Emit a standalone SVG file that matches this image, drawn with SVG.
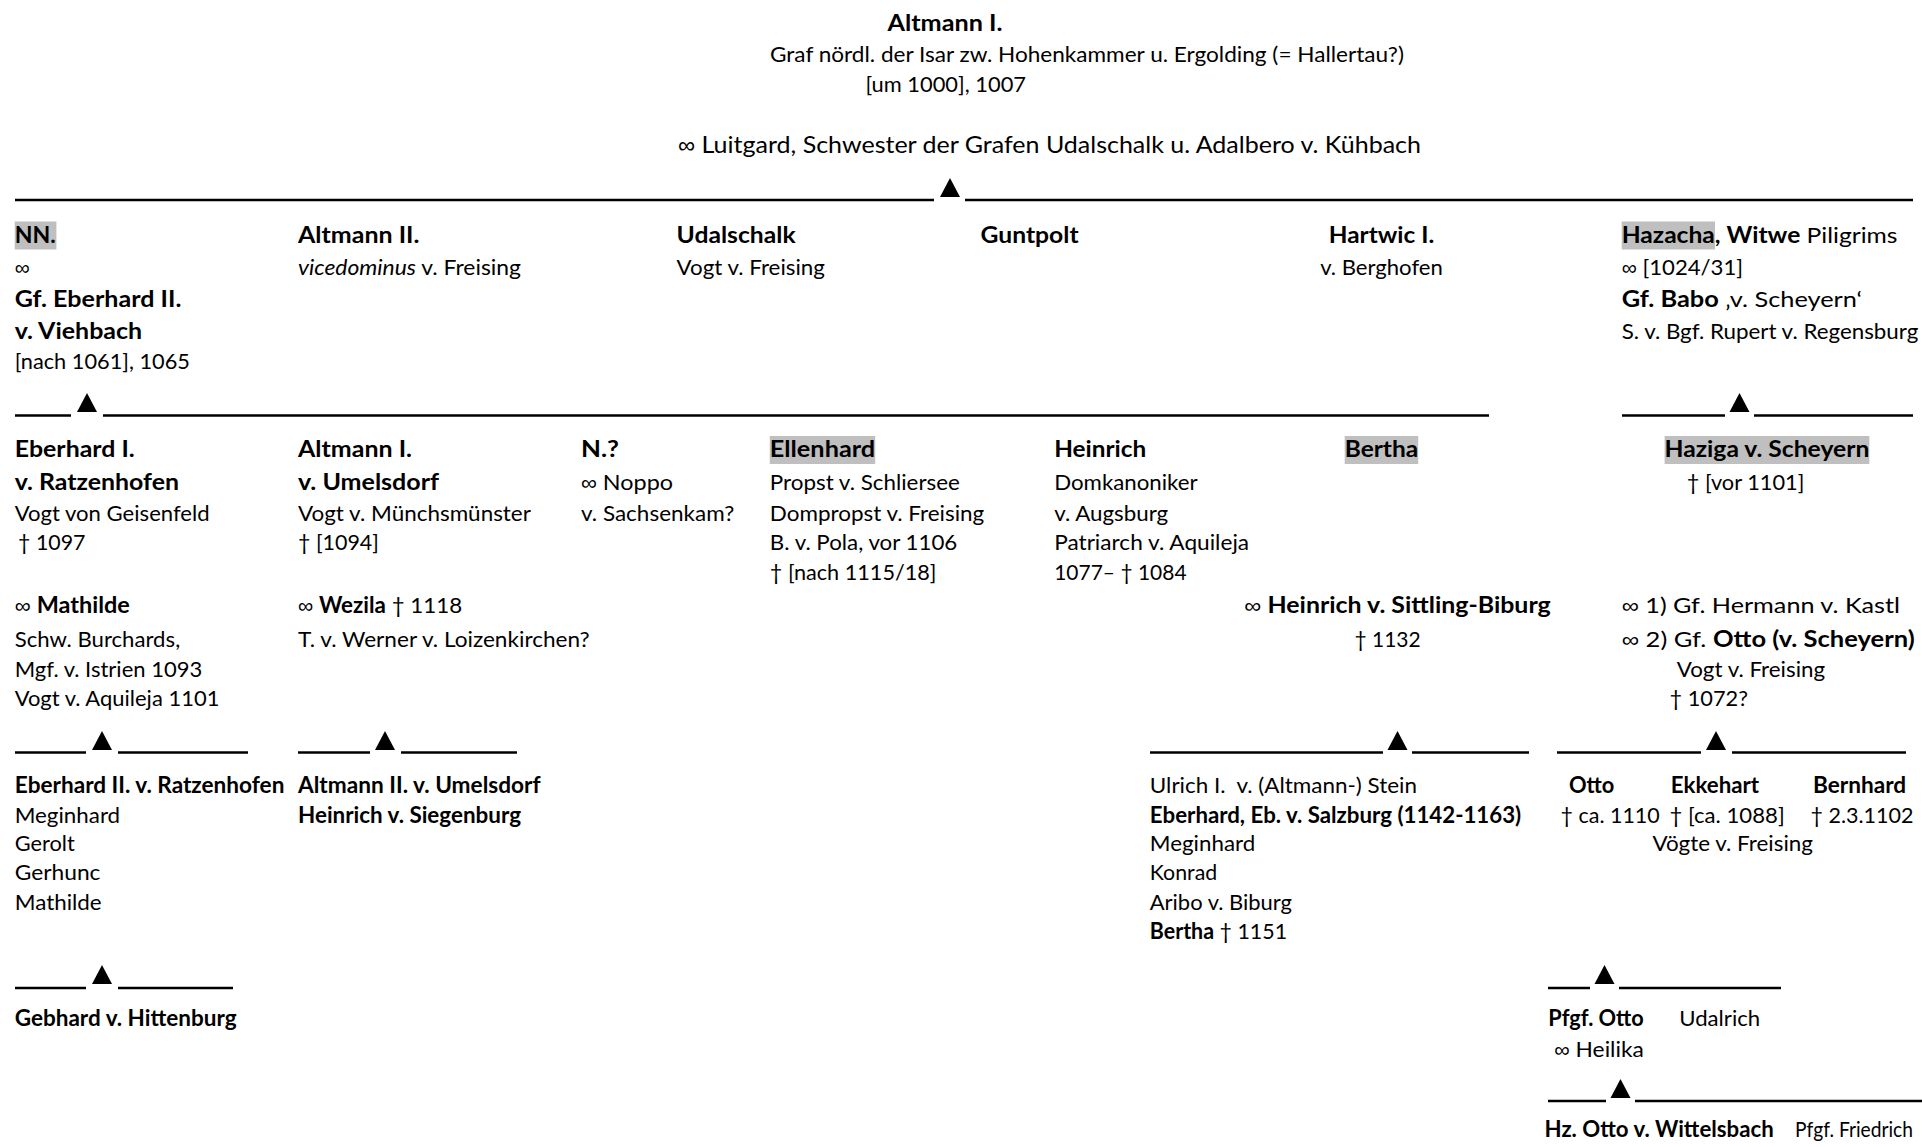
<svg xmlns="http://www.w3.org/2000/svg" width="1922" height="1147" viewBox="0 0 1922 1147">
<style>
text{font-family:Lato,"Open Sans","Liberation Sans",sans-serif;font-size:22px;fill:#000}
.b{font-weight:bold}
.i{font-style:italic}
.inf{font-family:"Liberation Sans",Arial,sans-serif;font-size:21px;font-weight:normal}
.hl{fill:#bfbfbf}
.ln{stroke:#000;stroke-width:2.6;fill:none}
.big{font-size:24px}
</style>
<defs>
<polygon id="tri" points="0,0 10,19 -10,19" fill="#000"/>
</defs>
<rect width="1922" height="1147" fill="#fff"/>

<g id="connectors">
<g class="ln">
<line x1="15" y1="200" x2="934" y2="200"/><line x1="965" y1="200" x2="1913" y2="200"/>
<line x1="15" y1="415.5" x2="71" y2="415.5"/><line x1="103" y1="415.5" x2="1489" y2="415.5"/>
<line x1="1622" y1="415.5" x2="1725" y2="415.5"/><line x1="1754" y1="415.5" x2="1913" y2="415.5"/>
<line x1="15" y1="752.5" x2="86" y2="752.5"/><line x1="118" y1="752.5" x2="248" y2="752.5"/>
<line x1="298" y1="752.5" x2="370" y2="752.5"/><line x1="401" y1="752.5" x2="517" y2="752.5"/>
<line x1="1150" y1="752.5" x2="1383" y2="752.5"/><line x1="1412" y1="752.5" x2="1529" y2="752.5"/>
<line x1="1557" y1="752.5" x2="1701" y2="752.5"/><line x1="1732" y1="752.5" x2="1906" y2="752.5"/>
<line x1="15" y1="988" x2="86" y2="988"/><line x1="118" y1="988" x2="233" y2="988"/>
<line x1="1548" y1="988" x2="1590" y2="988"/><line x1="1619" y1="988" x2="1781" y2="988"/>
<line x1="1548" y1="1101" x2="1606" y2="1101"/><line x1="1635" y1="1101" x2="1922" y2="1101"/>
</g>
<use href="#tri" x="950" y="178"/>
<use href="#tri" x="87" y="393"/>
<use href="#tri" x="1739.5" y="393"/>
<use href="#tri" x="102" y="731"/>
<use href="#tri" x="385" y="731"/>
<use href="#tri" x="1397.5" y="731"/>
<use href="#tri" x="1716" y="731"/>
<use href="#tri" x="102" y="965"/>
<use href="#tri" x="1604.5" y="965"/>
<use href="#tri" x="1620.5" y="1079"/>
</g>

<g id="altmann-i">
<text x="887.5" y="30.5" class="b" textLength="115" lengthAdjust="spacingAndGlyphs">Altmann I.</text>
<text x="770" y="62" textLength="634" lengthAdjust="spacingAndGlyphs">Graf nördl. der Isar zw. Hohenkammer u. Ergolding (= Hallertau?)</text>
<text x="865.5" y="92" textLength="160.5" lengthAdjust="spacingAndGlyphs">[um 1000], 1007</text>
<text x="678" y="153" class="big" textLength="743" lengthAdjust="spacingAndGlyphs"><tspan class="inf" style="font-size:23px">∞</tspan> Luitgard, Schwester der Grafen Udalschalk u. Adalbero v. Kühbach</text>
</g>

<g id="nn">
<rect class="hl" x="14.7" y="221.5" width="41.7" height="28"/>
<text x="14.7" y="242.5" class="b" textLength="41" lengthAdjust="spacingAndGlyphs">NN.</text>
<text x="14.7" y="274.5" class="inf">∞</text>
<text x="14.7" y="306.5" class="b" textLength="166.7" lengthAdjust="spacingAndGlyphs">Gf. Eberhard II.</text>
<text x="14.7" y="338.5" class="b" textLength="127.5" lengthAdjust="spacingAndGlyphs">v. Viehbach</text>
<text x="14.7" y="369" textLength="175.3" lengthAdjust="spacingAndGlyphs">[nach 1061], 1065</text>
</g>

<g id="altmann-ii">
<text x="298" y="242.5" class="b" textLength="121.4" lengthAdjust="spacingAndGlyphs">Altmann II.</text>
<text x="298" y="274.5" textLength="223" lengthAdjust="spacingAndGlyphs"><tspan class="i">vicedominus</tspan> v. Freising</text>
</g>

<g id="udalschalk">
<text x="676.6" y="242.5" class="b" textLength="119" lengthAdjust="spacingAndGlyphs">Udalschalk</text>
<text x="676.6" y="274.5" textLength="148.3" lengthAdjust="spacingAndGlyphs">Vogt v. Freising</text>
</g>

<g id="guntpolt">
<text x="980.6" y="242.5" class="b" textLength="98" lengthAdjust="spacingAndGlyphs">Guntpolt</text>
</g>

<g id="hartwic-i">
<text x="1328.8" y="242.5" class="b" textLength="105.4" lengthAdjust="spacingAndGlyphs">Hartwic I.</text>
<text x="1320.2" y="274.5" textLength="122.6" lengthAdjust="spacingAndGlyphs">v. Berghofen</text>
</g>

<g id="hazacha">
<rect class="hl" x="1621.7" y="221.5" width="93.3" height="28"/>
<text x="1621.7" y="242.5" textLength="275.8" lengthAdjust="spacingAndGlyphs"><tspan class="b">Hazacha, Witwe</tspan> Piligrims</text>
<text x="1621.7" y="274.5" textLength="121.4" lengthAdjust="spacingAndGlyphs"><tspan class="inf">∞</tspan> [1024/31]</text>
<text x="1621.7" y="306.5" textLength="240.3" lengthAdjust="spacingAndGlyphs"><tspan class="b">Gf. Babo</tspan> ‚v. Scheyern‘</text>
<text x="1621.7" y="338.5" textLength="296.6" lengthAdjust="spacingAndGlyphs">S. v. Bgf. Rupert v. Regensburg</text>
</g>

<g id="eberhard-i">
<text x="14.7" y="457" class="b" textLength="120" lengthAdjust="spacingAndGlyphs">Eberhard I.</text>
<text x="14.7" y="490" class="b" textLength="164.3" lengthAdjust="spacingAndGlyphs">v. Ratzenhofen</text>
<text x="14.7" y="520.5" textLength="194.9" lengthAdjust="spacingAndGlyphs">Vogt von Geisenfeld</text>
<text x="18" y="550" textLength="67.5" lengthAdjust="spacingAndGlyphs">† 1097</text>
<text x="14.7" y="613" textLength="115.2" lengthAdjust="spacingAndGlyphs"><tspan class="inf">∞</tspan> <tspan class="b">Mathilde</tspan></text>
<text x="14.7" y="647" textLength="165.5" lengthAdjust="spacingAndGlyphs">Schw. Burchards,</text>
<text x="14.7" y="676.5" textLength="187.5" lengthAdjust="spacingAndGlyphs">Mgf. v. Istrien 1093</text>
<text x="14.7" y="706" textLength="204.7" lengthAdjust="spacingAndGlyphs">Vogt v. Aquileja 1101</text>
</g>

<g id="altmann-i-umelsdorf">
<text x="298" y="457" class="b" textLength="114" lengthAdjust="spacingAndGlyphs">Altmann I.</text>
<text x="298" y="490" class="b" textLength="141" lengthAdjust="spacingAndGlyphs">v. Umelsdorf</text>
<text x="298" y="520.5" textLength="232.9" lengthAdjust="spacingAndGlyphs">Vogt v. Münchsmünster</text>
<text x="298" y="550" textLength="80.9" lengthAdjust="spacingAndGlyphs">† [1094]</text>
<text x="298" y="613" textLength="164.3" lengthAdjust="spacingAndGlyphs"><tspan class="inf">∞</tspan> <tspan class="b">Wezila</tspan> † 1118</text>
<text x="298" y="647" textLength="291.7" lengthAdjust="spacingAndGlyphs">T. v. Werner v. Loizenkirchen?</text>
</g>

<g id="n">
<text x="581" y="457" class="b" textLength="38" lengthAdjust="spacingAndGlyphs">N.?</text>
<text x="581" y="490" textLength="92" lengthAdjust="spacingAndGlyphs"><tspan class="inf">∞</tspan> Noppo</text>
<text x="581" y="520.5" textLength="153.2" lengthAdjust="spacingAndGlyphs">v. Sachsenkam?</text>
</g>

<g id="ellenhard">
<rect class="hl" x="769.8" y="436" width="105.4" height="28"/>
<text x="769.8" y="457" class="b" textLength="105.4" lengthAdjust="spacingAndGlyphs">Ellenhard</text>
<text x="769.8" y="490" textLength="190" lengthAdjust="spacingAndGlyphs">Propst v. Schliersee</text>
<text x="769.8" y="520.5" textLength="214.5" lengthAdjust="spacingAndGlyphs">Dompropst v. Freising</text>
<text x="769.8" y="550" textLength="187.5" lengthAdjust="spacingAndGlyphs">B. v. Pola, vor 1106</text>
<text x="769.8" y="579.5" textLength="166.7" lengthAdjust="spacingAndGlyphs">† [nach 1115/18]</text>
</g>

<g id="heinrich">
<text x="1054.2" y="457" class="b" textLength="92" lengthAdjust="spacingAndGlyphs">Heinrich</text>
<text x="1054.2" y="490" textLength="143.4" lengthAdjust="spacingAndGlyphs">Domkanoniker</text>
<text x="1054.2" y="520.5" textLength="114" lengthAdjust="spacingAndGlyphs">v. Augsburg</text>
<text x="1054.2" y="550" textLength="194.9" lengthAdjust="spacingAndGlyphs">Patriarch v. Aquileja</text>
<text x="1054.2" y="579.5" textLength="132.4" lengthAdjust="spacingAndGlyphs">1077– † 1084</text>
</g>

<g id="bertha">
<rect class="hl" x="1344.7" y="436" width="73.5" height="28"/>
<text x="1344.7" y="457" class="b" textLength="73.5" lengthAdjust="spacingAndGlyphs">Bertha</text>
<text x="1244.2" y="613" textLength="306.5" lengthAdjust="spacingAndGlyphs"><tspan class="inf">∞</tspan> <tspan class="b">Heinrich v. Sittling-Biburg</tspan></text>
<text x="1354.5" y="647" textLength="66.2" lengthAdjust="spacingAndGlyphs">† 1132</text>
</g>

<g id="haziga">
<rect class="hl" x="1664.6" y="436" width="204.7" height="28"/>
<text x="1664.6" y="457" class="b" textLength="204.7" lengthAdjust="spacingAndGlyphs">Haziga v. Scheyern</text>
<text x="1686.7" y="490" textLength="117.7" lengthAdjust="spacingAndGlyphs">† [vor 1101]</text>
<text x="1621.7" y="613" textLength="278.3" lengthAdjust="spacingAndGlyphs"><tspan class="inf">∞</tspan> 1) Gf. Hermann v. Kastl</text>
<text x="1621.7" y="647" textLength="293" lengthAdjust="spacingAndGlyphs"><tspan class="inf">∞</tspan> 2) Gf. <tspan class="b">Otto (v. Scheyern)</tspan></text>
<text x="1676.8" y="676.5" textLength="148.3" lengthAdjust="spacingAndGlyphs">Vogt v. Freising</text>
<text x="1669.5" y="706" textLength="78.5" lengthAdjust="spacingAndGlyphs">† 1072?</text>
</g>

<g id="ratzenhofen-children">
<text x="14.7" y="793" class="b" textLength="269.7" lengthAdjust="spacingAndGlyphs">Eberhard II. v. Ratzenhofen</text>
<text x="14.7" y="822.5" textLength="105.4" lengthAdjust="spacingAndGlyphs">Meginhard</text>
<text x="14.7" y="851" textLength="60" lengthAdjust="spacingAndGlyphs">Gerolt</text>
<text x="14.7" y="880" textLength="85.8" lengthAdjust="spacingAndGlyphs">Gerhunc</text>
<text x="14.7" y="909.5" textLength="87" lengthAdjust="spacingAndGlyphs">Mathilde</text>
</g>

<g id="umelsdorf-children">
<text x="298" y="793" class="b" textLength="242.7" lengthAdjust="spacingAndGlyphs">Altmann II. v. Umelsdorf</text>
<text x="298" y="822.5" class="b" textLength="223" lengthAdjust="spacingAndGlyphs">Heinrich v. Siegenburg</text>
</g>

<g id="biburg-children">
<text x="1149.8" y="793" textLength="267.2" lengthAdjust="spacingAndGlyphs">Ulrich I.&#160; v. (Altmann-) Stein</text>
<text x="1149.8" y="822.5" class="b" textLength="371.4" lengthAdjust="spacingAndGlyphs">Eberhard, Eb. v. Salzburg (1142-1163)</text>
<text x="1149.8" y="851" textLength="105.4" lengthAdjust="spacingAndGlyphs">Meginhard</text>
<text x="1149.8" y="880" textLength="67.4" lengthAdjust="spacingAndGlyphs">Konrad</text>
<text x="1149.8" y="909.5" textLength="142.2" lengthAdjust="spacingAndGlyphs">Aribo v. Biburg</text>
<text x="1149.8" y="939" textLength="137.3" lengthAdjust="spacingAndGlyphs"><tspan class="b">Bertha</tspan> † 1151</text>
</g>

<g id="scheyern-children">
<text x="1569" y="793" class="b" textLength="45.4" lengthAdjust="spacingAndGlyphs">Otto</text>
<text x="1560.5" y="822.5" textLength="99.3" lengthAdjust="spacingAndGlyphs">† ca. 1110</text>
<text x="1670.8" y="793" class="b" textLength="88.3" lengthAdjust="spacingAndGlyphs">Ekkehart</text>
<text x="1669.5" y="822.5" textLength="115.2" lengthAdjust="spacingAndGlyphs">† [ca. 1088]</text>
<text x="1813" y="793" class="b" textLength="93.2" lengthAdjust="spacingAndGlyphs">Bernhard</text>
<text x="1810.5" y="822.5" textLength="103" lengthAdjust="spacingAndGlyphs">† 2.3.1102</text>
<text x="1652.4" y="851" textLength="160.6" lengthAdjust="spacingAndGlyphs">Vögte v. Freising</text>
</g>

<g id="gebhard">
<text x="14.7" y="1026" class="b" textLength="221.9" lengthAdjust="spacingAndGlyphs">Gebhard v. Hittenburg</text>
</g>

<g id="pfgf-otto">
<text x="1548.2" y="1026" class="b" textLength="95.6" lengthAdjust="spacingAndGlyphs">Pfgf. Otto</text>
<text x="1554.3" y="1056.5" textLength="89.5" lengthAdjust="spacingAndGlyphs"><tspan class="inf">∞</tspan> Heilika</text>
</g>

<g id="udalrich">
<text x="1679.3" y="1026" textLength="80.9" lengthAdjust="spacingAndGlyphs">Udalrich</text>
</g>

<g id="otto-wittelsbach">
<text x="1544.5" y="1137" class="b" textLength="229.2" lengthAdjust="spacingAndGlyphs">Hz. Otto v. Wittelsbach</text>
</g>

<g id="friedrich">
<text x="1795" y="1137" style="font-size:20.5px" textLength="118" lengthAdjust="spacingAndGlyphs">Pfgf. Friedrich</text>
</g>
</svg>
